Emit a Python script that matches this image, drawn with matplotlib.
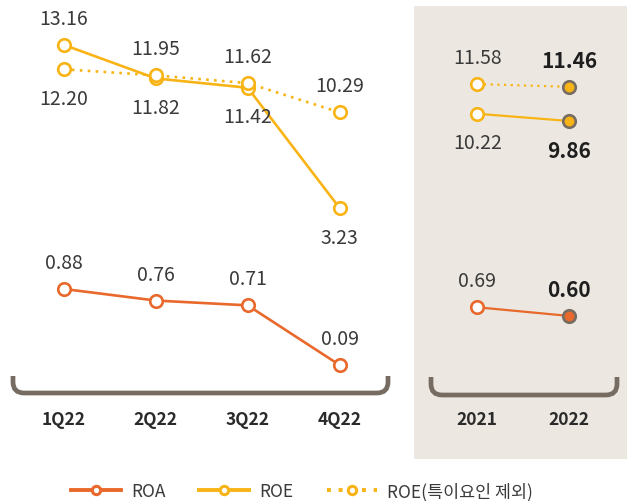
import matplotlib
matplotlib.use("Agg")
import numpy as np
import matplotlib.pyplot as plt
from matplotlib.lines import Line2D
from matplotlib.path import Path
from matplotlib.patches import PathPatch

plt.rcParams['font.family'] = ['Noto Sans CJK KR', 'DejaVu Sans']

# data
quarters = ['1Q22', '2Q22', '3Q22', '4Q22']
years = ['2021', '2022']
roa_q = [0.88, 0.76, 0.71, 0.09]
roe_q = [13.16, 11.82, 11.42, 3.23]
roe_adj_q = [12.20, 11.95, 11.62, 10.29]
roa_y = [0.69, 0.60]
roe_y = [10.22, 9.86]
roe_adj_y = [11.58, 11.46]

ROA_C = '#E8692B'
ROE_C = '#F8B416'
EDGE_C = '#766C62'
TXT_C = '#3A3A3A'
BOX_C = '#ECE8E1'

xq = [0, 1, 2, 3]
xy = [4.5, 5.5]

fig = plt.figure(figsize=(6.27, 5.02), dpi=100)
ax = fig.add_axes([0, 0, 1, 1])
ax.set_xlim(-0.697, 6.13)
# the source chart stretches the upper ROE range; a signed square scale mimics it
ax.set_yscale('function', functions=(lambda v: np.sign(v) * v ** 2,
                                     lambda u: np.sign(u) * np.sqrt(np.abs(u))))
ax.set_ylim(-16.80, 14.80)
ax_roa = ax.twinx()
ax_roa.set_ylim(-1.324, 3.895)
for a in (ax, ax_roa):
    a.set_axis_off()

ax.axvspan(3.81, 6.3, ymin=0.084, ymax=0.986, color=BOX_C, zorder=0, lw=0)

line_kw = dict(lw=1.9, marker='o', ms=9, mew=1.9, mfc='white')

# quarterly
ax.plot(xq, roe_q, color=ROE_C, mec=ROE_C, zorder=3, **line_kw)
ax.plot(xq, roe_adj_q, color=ROE_C, mec=ROE_C, ls=(0, (1, 2)), zorder=3, **line_kw)
ax_roa.plot(xq, roa_q, color=ROA_C, mec=ROA_C, zorder=3, **line_kw)

# annual
ax.plot(xy, roe_y, color=ROE_C, lw=1.6, zorder=3)
ax.plot(xy, roe_adj_y, color=ROE_C, lw=1.6, ls=(0, (1, 2)), zorder=3)
ax_roa.plot(xy, roa_y, color=ROA_C, lw=1.6, zorder=3)
for a, vals, c in ((ax, roe_y, ROE_C), (ax, roe_adj_y, ROE_C), (ax_roa, roa_y, ROA_C)):
    a.plot(xy[:1], vals[:1], ls='none', marker='o', ms=9, mew=1.9, mfc='white', mec=c, zorder=4)
    a.plot(xy[1:], vals[1:], ls='none', marker='o', ms=9, mew=1.9, mfc=c, mec=EDGE_C, zorder=4)


def label(a, x, v, above, bold=False):
    a.annotate(f'{v:.2f}', (x, v), xytext=(0, 19 if above else -21),
               textcoords='offset points', ha='center', va='center',
               fontsize=15 if bold else 14, color='#1E1E1E' if bold else TXT_C,
               fontweight='bold' if bold else 'normal', zorder=5)


xs = xq + xy
roe_all = roe_q + roe_y
adj_all = roe_adj_q + roe_adj_y
roa_all = roa_q + roa_y
for i, x in enumerate(xs):
    bold = x == xy[-1]
    hi = roe_all[i] > adj_all[i]
    label(ax, x, roe_all[i], hi, bold)
    label(ax, x, adj_all[i], not hi, bold)
    label(ax_roa, x, roa_all[i], True, bold)

# category labels
tr = ax.get_xaxis_transform()
for x, t in zip(xs, quarters + years):
    ax.text(x, 0.163, t, transform=tr, ha='center', va='center',
            fontsize=12.5, fontweight='bold', color='#2A2A2A')

# brackets (pixel overlay)
deco = fig.add_axes([0, 0, 1, 1])
deco.set_xlim(0, 627)
deco.set_ylim(502, 0)
deco.set_axis_off()
deco.patch.set_visible(False)


def bracket(x0, x1, ytop, ybot, r=11):
    verts = [(x0, ytop), (x0, ybot - r), (x0, ybot), (x0 + r, ybot),
             (x1 - r, ybot), (x1, ybot), (x1, ybot - r), (x1, ytop)]
    codes = [Path.MOVETO, Path.LINETO, Path.CURVE3, Path.CURVE3,
             Path.LINETO, Path.CURVE3, Path.CURVE3, Path.LINETO]
    deco.add_patch(PathPatch(Path(verts, codes), fill=False, ec=EDGE_C,
                             lw=3.4, capstyle='butt'))


bracket(13, 388, 377, 394)
bracket(431, 617, 378, 396)

handles = [
    Line2D([], [], color=ROA_C, lw=2.8, marker='o', ms=6, mew=2.2, mfc='white', mec=ROA_C),
    Line2D([], [], color=ROE_C, lw=2.8, marker='o', ms=6, mew=2.2, mfc='white', mec=ROE_C),
    Line2D([], [], color=ROE_C, lw=2.8, ls=(0, (1, 2)), marker='o', ms=6, mew=2.2,
           mfc='white', mec=ROE_C),
]
fig.legend(handles, ['ROA', 'ROE', 'ROE(특이요인 제외)'], loc='center',
           bbox_to_anchor=(302 / 627, 1 - 492 / 502), ncol=3, frameon=False,
           fontsize=12.5, handlelength=2.9, handletextpad=0.6, columnspacing=1.9,
           labelcolor=TXT_C)

fig.savefig('out.png', dpi=100)
